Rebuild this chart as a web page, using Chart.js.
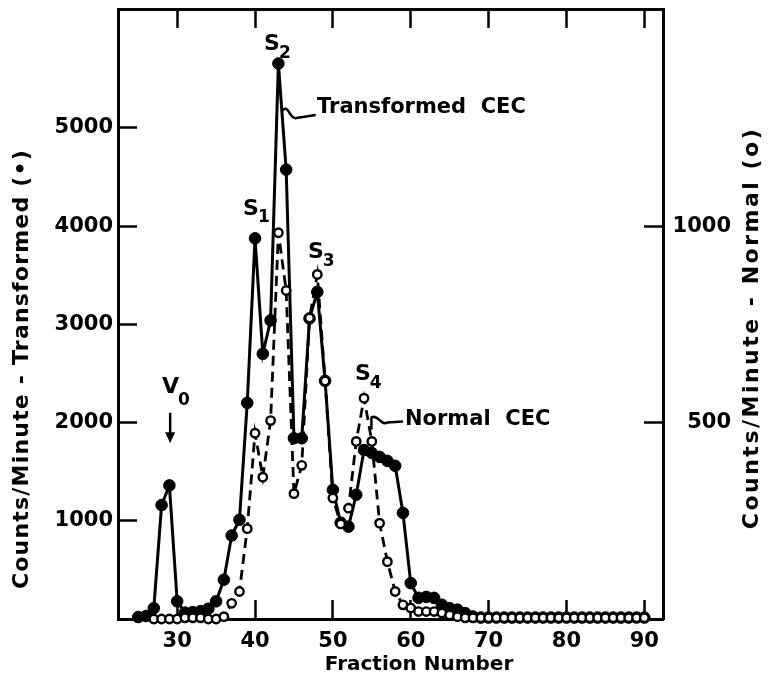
<!DOCTYPE html>
<html><head><meta charset="utf-8">
<script src="https://cdn.jsdelivr.net/npm/chart.js@4.4.0/dist/chart.umd.min.js"></script>
<style>html,body{margin:0;padding:0;background:#fff}</style>
</head><body>
<canvas id="c" width="769" height="689" style="display:block"></canvas>
<script>
const fractions = [25,26,27,28,29,30,31,32,33,34,35,36,37,38,39,40,41,42,43,44,45,46,47,48,49,50,51,52,53,54,55,56,57,58,59,60,61,62,63,64,65,66,67,68,69,70,71,72,73,74,75,76,77,78,79,80,81,82,83,84,85,86,87,88,89,90];
const transformed = [20,30,110,1160,1360,180,
  65,70,80,105,180,400,850,1010,2200,3875,
  2700,3040,5655,4575,1840,1840,3060,3330,2425,1315,
  980,940,1265,1720,1690,1650,1610,1560,1080,365,
  215,225,215,145,110,95,60,25,15,15,
  15,15,15,15,15,15,15,15,15,15,
  15,15,15,15,15,15,15,15,15,15];
const normal = [null,null,0,0,0,0,
  3,3,3,0,0,6,40,70,230,473,
  361,505,983,836,319,391,766,877,606,308,
  242,282,452,562,452,244,146,70,36,28,
  19,19,19,15,10,6,3,3,3,3,
  3,3,3,3,3,3,3,3,3,3,
  3,3,3,3,3,3,3,3,3,3];
const xTicks = [30,40,50,60,70,80,90];
const leftTicks = [1000,2000,3000,4000,5000];
const rightTicks = [500,1000];

const FAM = '"DejaVu Sans", sans-serif';
const tickFont = {family: '"DejaVu Sans"', size: 21, weight: 'bold'};
const gridOpts = {drawOnChartArea: false, drawTicks: true, tickLength: -19, tickWidth: 2.5, tickColor: '#000'};
const borderOpts = {display: true, color: '#000', width: 3};
const plain = v => String(v);
function noPad(s) { s.paddingTop = 0; s.paddingBottom = 0; s.paddingLeft = 0; s.paddingRight = 0; }

function sub(ctx, main, s, x, y, size, subSize, dx, dy) {
  ctx.font = 'bold ' + size + 'px ' + FAM;
  ctx.fillText(main, x, y);
  const w = ctx.measureText(main).width;
  ctx.font = 'bold ' + subSize + 'px ' + FAM;
  ctx.fillText(s, x + w + dx, y + dy);
}

const annot = {
  id: 'annot',
  afterDraw(chart) {
    const {ctx} = chart;
    const xs = chart.scales.x, ys = chart.scales.y;
    const X = v => xs.getPixelForValue(v), Y = v => ys.getPixelForValue(v);
    ctx.save();
    ctx.fillStyle = '#000'; ctx.strokeStyle = '#000';
    ctx.textAlign = 'left'; ctx.textBaseline = 'alphabetic';
    sub(ctx, 'S', '2', X(41.16), Y(5791), 22, 17, -1, 8);
    sub(ctx, 'S', '1', X(38.46), Y(4113), 22, 17, -1, 7);
    sub(ctx, 'S', '3', X(46.80), Y(3675), 22, 17, -1, 8);
    sub(ctx, 'S', '4', X(52.84), Y(2435), 22, 17, -1, 8);
    sub(ctx, 'V', '0', X(28.06), Y(2304), 22, 17, -1, 12);
    ctx.lineWidth = 2.5;
    ctx.beginPath(); ctx.moveTo(X(29.1), Y(2100)); ctx.lineTo(X(29.1), Y(1880)); ctx.stroke();
    ctx.beginPath();
    ctx.moveTo(X(29.1) - 5, Y(1900)); ctx.lineTo(X(29.1) + 5, Y(1900)); ctx.lineTo(X(29.1), Y(1790)); ctx.closePath(); ctx.fill();
    ctx.font = 'bold 21px ' + FAM;
    ctx.fillText('Transformed  CEC', X(47.96), Y(5150));
    ctx.fillText('Normal  CEC', X(59.26), Y(1977));
    ctx.lineWidth = 2.5;
    ctx.beginPath();
    ctx.moveTo(X(43.45), Y(5170));
    ctx.bezierCurveTo(X(44.3), Y(5260), X(44.4), Y(5080), X(45.3), Y(5100));
    ctx.lineTo(X(47.8), Y(5130));
    ctx.stroke();
    ctx.beginPath();
    ctx.moveTo(X(54.95), Y(1930));
    ctx.lineTo(X(54.95), Y(2050));
    ctx.bezierCurveTo(X(55.8), Y(2090), X(56.2), Y(1960), X(57.0), Y(2000));
    ctx.lineTo(X(59.0), Y(2010));
    ctx.stroke();
    ctx.font = 'bold 20px ' + FAM;
    ctx.textAlign = 'center'; ctx.textBaseline = 'middle';
    ctx.fillText('Fraction Number', 419, 665);
    ctx.font = 'bold 22px ' + FAM;
    ctx.save();
    ctx.letterSpacing = '1.2px';
    ctx.translate(22, 369); ctx.rotate(-Math.PI / 2);
    ctx.fillText('Counts/Minute - Transformed (\u2022)', 0, 0);
    ctx.restore();
    ctx.save();
    ctx.letterSpacing = '2.5px';
    ctx.translate(752, 328); ctx.rotate(-Math.PI / 2);
    ctx.fillText('Counts/Minute - Normal (o)', 0, 0);
    ctx.restore();
    ctx.restore();
  }
};

new Chart(document.getElementById('c').getContext('2d'), {
  type: 'line',
  data: {
    datasets: [
      {
        label: 'Normal CEC',
        data: fractions.map((f, i) => ({x: f, y: normal[i]})),
        xAxisID: 'x', yAxisID: 'yR',
        borderColor: '#000', borderWidth: 2.8, borderDash: [10, 6],
        pointRadius: 4.2, pointBorderWidth: 2.4, pointBackgroundColor: '#fff', pointBorderColor: '#000',
        tension: 0, clip: false
      },
      {
        label: 'Transformed CEC',
        data: fractions.map((f, i) => ({x: f, y: transformed[i]})),
        xAxisID: 'x', yAxisID: 'y',
        borderColor: '#000', borderWidth: 3,
        pointRadius: 5.8, pointBorderWidth: 1, pointBackgroundColor: '#000', pointBorderColor: '#000',
        tension: 0, clip: false
      }
    ]
  },
  options: {
    responsive: false, animation: false, devicePixelRatio: 1,
    layout: {autoPadding: false, padding: {left: 0, right: 38, top: 9, bottom: 0}},
    plugins: {legend: {display: false}, tooltip: {enabled: false}},
    scales: {
      x: {
        type: 'linear', position: 'bottom', min: 22.4, max: 92.4,
        afterBuildTicks: s => { s.ticks = xTicks.map(v => ({value: v})); },
        afterFit: s => { s.height = 70; noPad(s); },
        grid: gridOpts, border: borderOpts,
        ticks: {color: '#000', font: tickFont, padding: 29, maxRotation: 0, autoSkip: false, callback: plain}
      },
      x2: {
        type: 'linear', position: 'top', min: 22.4, max: 92.4,
        afterBuildTicks: s => { s.ticks = xTicks.map(v => ({value: v})); },
        afterFit: s => { s.height = 0; noPad(s); },
        grid: gridOpts, border: borderOpts,
        ticks: {display: false}
      },
      y: {
        type: 'linear', position: 'left', min: 0, max: 6210,
        afterBuildTicks: s => { s.ticks = leftTicks.map(v => ({value: v})); },
        afterFit: s => { s.width = 118; noPad(s); },
        grid: gridOpts, border: borderOpts,
        ticks: {color: '#000', font: tickFont, padding: 24, autoSkip: false, callback: plain}
      },
      yR: {
        type: 'linear', position: 'right', min: 0, max: 1552.5,
        afterBuildTicks: s => { s.ticks = rightTicks.map(v => ({value: v})); },
        afterFit: s => { s.width = 68; noPad(s); },
        grid: gridOpts, border: borderOpts,
        ticks: {color: '#000', font: tickFont, padding: 24, crossAlign: 'far', autoSkip: false, callback: plain}
      }
    }
  },
  plugins: [annot]
});
</script>
</body></html>
